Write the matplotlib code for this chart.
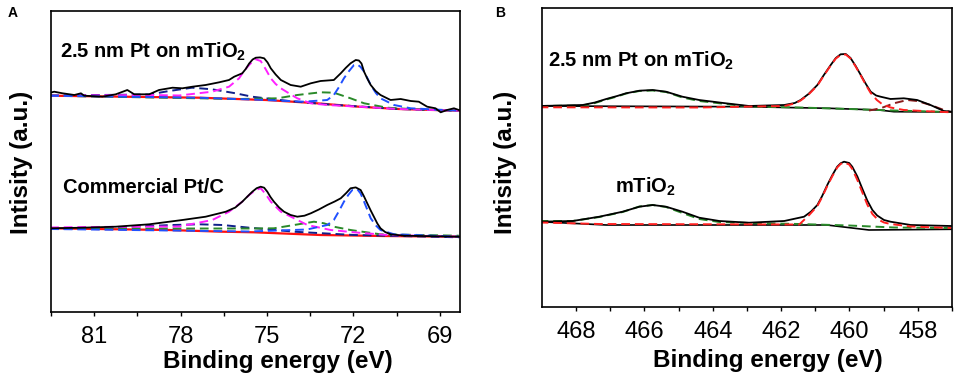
import matplotlib
matplotlib.use("Agg")
import matplotlib.pyplot as plt

plt.rcParams['font.family'] = ['Liberation Sans', 'DejaVu Sans']
plt.rcParams['mathtext.fontset'] = 'custom'
plt.rcParams['mathtext.rm'] = 'Liberation Sans'
plt.rcParams['mathtext.bf'] = 'Liberation Sans:bold'

# ---- Panel A: Pt 4f ----
# upper trace: 2.5 nm Pt on mTiO2
a_up_x = [82.56, 82.39, 82.10, 81.69, 81.46, 81.35, 80.71, 80.25, 79.85, 79.61, 79.09, 78.75,
          78.28, 77.94, 77.59, 77.13, 76.66, 76.32, 76.14, 75.86, 75.74, 75.62, 75.50, 75.39,
          75.24, 75.10, 74.98, 74.87, 74.70, 74.52, 74.18, 73.83, 73.48, 73.14, 72.68, 72.44,
          72.27, 72.10, 71.92, 71.81, 71.72, 71.63, 71.52, 71.40, 71.23, 71.06, 70.71, 70.36,
          70.01, 69.73, 69.44, 69.15, 68.97, 68.75, 68.51, 68.34]
a_up_y = [219.0, 220.3, 218.7, 217.0, 218.7, 216.3, 215.3, 217.7, 222.0, 217.7, 217.7, 222.0,
          224.3, 223.7, 225.3, 227.0, 229.7, 232.0, 235.3, 238.7, 243.0, 248.5, 252.5, 254.3,
          254.6, 253.7, 249.5, 243.7, 237.5, 232.0, 227.0, 225.3, 228.7, 231.0, 232.0, 238.7,
          244.0, 248.7, 252.0, 251.5, 248.5, 240.3, 233.5, 227.0, 221.0, 217.0, 212.0, 213.0,
          211.0, 210.3, 205.3, 203.7, 199.7, 202.0, 203.7, 202.0]
a_up_bg_x = [82.53, 77.36, 75.04, 73.40, 71.81, 70.42, 68.34]
a_up_bg_y = [216.3, 214.3, 212.0, 209.0, 205.3, 203.0, 201.3]
a_up_mag_x = [82.53, 79.09, 78.05, 76.91, 76.32, 75.97, 75.80, 75.62, 75.42, 75.22, 75.05,
              74.87, 74.70, 74.52, 74.20, 73.95, 73.48, 72.91, 71.81, 70.42, 68.34]
a_up_mag_y = [216.3, 217.0, 216.5, 220.3, 225.3, 233.7, 241.0, 247.0, 253.0, 251.0, 243.0,
              233.7, 228.0, 223.7, 218.0, 213.7, 208.7, 207.0, 205.3, 203.0, 201.3]
a_up_blue_x = [82.53, 77.36, 75.04, 73.72, 72.91, 72.68, 72.50, 72.33, 72.15, 71.98, 71.87,
               71.75, 71.63, 71.50, 71.40, 71.22, 71.06, 70.59, 70.01, 68.34]
a_up_blue_y = [216.3, 214.3, 212.0, 210.3, 212.0, 217.0, 225.0, 233.7, 241.0, 247.0, 247.7,
               245.0, 240.3, 233.0, 227.0, 219.0, 213.7, 207.0, 203.7, 201.3]
a_up_green_x = [82.53, 75.97, 74.64, 73.95, 73.14, 72.68, 72.10, 71.63, 70.83, 70.01, 68.34]
a_up_green_y = [216.3, 213.0, 213.7, 217.0, 219.7, 219.3, 213.7, 208.7, 204.3, 203.0, 201.3]
a_up_navy_x = [82.53, 79.09, 78.40, 77.60, 76.91, 76.09, 75.52, 74.24, 72.85, 70.42, 68.34]
a_up_navy_y = [216.5, 217.5, 221.0, 224.3, 222.7, 218.7, 215.3, 211.0, 207.5, 203.0, 201.3]

# lower trace: commercial Pt/C
a_lo_x = [82.56, 81.41, 80.25, 79.09, 77.94, 77.13, 76.43, 76.10, 75.86, 75.68, 75.51, 75.36,
          75.22, 75.10, 74.99, 74.88, 74.76, 74.58, 74.41, 74.18, 73.95, 73.70, 73.48, 73.20,
          72.91, 72.65, 72.44, 72.25, 72.10, 71.92, 71.75, 71.64, 71.52, 71.40, 71.29, 71.17,
          71.06, 70.90, 70.71, 70.25, 68.34]
a_lo_y = [83.7, 84.3, 85.3, 87.7, 92.0, 95.3, 100.3, 104.5, 110.3, 115.5, 120.3, 123.8,
          125.3, 124.3, 120.3, 115.0, 110.3, 104.5, 100.3, 97.0, 95.3, 96.3, 98.7, 102.5,
          107.0, 110.5, 113.7, 119.0, 123.7, 124.6, 122.0, 116.0, 108.7, 101.5, 95.3, 88.5,
          83.7, 80.0, 77.7, 76.3, 75.3]
a_lo_bg_x = [82.56, 78.40, 76.56, 75.45, 73.14, 70.98, 68.34]
a_lo_bg_y = [83.7, 82.0, 80.3, 79.7, 77.0, 76.0, 75.3]
a_lo_mag_x = [82.53, 81.17, 78.05, 76.90, 76.32, 75.86, 75.60, 75.39, 75.22, 75.05, 74.87,
              74.52, 74.06, 73.60, 72.79, 71.98, 70.83, 68.34]
a_lo_mag_y = [84.5, 85.0, 85.5, 92.0, 100.3, 110.3, 117.5, 122.0, 123.7, 118.0, 110.3,
              100.3, 93.7, 87.0, 82.0, 79.7, 77.0, 75.3]
a_lo_blue_x = [82.53, 75.62, 73.61, 72.91, 72.68, 72.50, 72.33, 72.18, 72.04, 71.87, 71.75,
               71.63, 71.50, 71.40, 71.22, 71.06, 70.59, 68.34]
a_lo_blue_y = [83.0, 80.5, 82.5, 87.0, 92.0, 101.0, 110.3, 117.0, 122.0, 123.0, 118.5,
               110.3, 101.0, 93.7, 86.5, 82.0, 77.7, 75.3]
a_lo_green_x = [82.53, 79.09, 75.62, 74.76, 74.06, 73.37, 73.02, 72.68, 72.10, 71.06, 69.67, 68.34]
a_lo_green_y = [83.0, 83.5, 83.5, 83.7, 87.0, 90.3, 88.7, 85.3, 82.0, 77.7, 77.0, 76.3]
a_lo_navy_x = [82.53, 79.67, 78.28, 77.36, 76.55, 75.62, 75.10, 74.06, 71.98, 68.34]
a_lo_navy_y = [83.0, 85.3, 87.0, 87.7, 87.0, 84.3, 83.0, 80.3, 77.0, 74.7]

# ---- Panel B: Ti 2p ----
b_up_x = [469.07, 467.81, 467.45, 467.12, 466.80, 466.54, 466.15, 465.76, 465.37, 464.89,
          464.40, 463.62, 462.94, 461.91, 461.60, 461.43, 461.20, 460.94, 460.75, 460.55,
          460.40, 460.26, 460.11, 459.97, 459.82, 459.67, 459.52, 459.38, 459.22, 459.09,
          458.80, 458.41, 458.02, 457.63, 457.24, 457.03]
b_up_y = [201.0, 202.0, 204.5, 208.0, 211.0, 213.7, 216.3, 217.0, 215.3, 210.3,
          207.0, 203.7, 201.0, 202.0, 204.0, 207.0, 213.0, 222.0, 232.0, 242.0,
          249.0, 252.7, 253.0, 249.0, 241.0, 232.0, 223.0, 215.3, 211.5, 210.3,
          208.0, 208.7, 207.0, 202.0, 196.0, 195.3]
b_up_bg_x = [469.07, 463.08, 460.60, 459.14, 458.70, 457.03]
b_up_bg_y = [201.0, 200.3, 198.7, 197.0, 195.3, 195.0]
b_up_green_x = [469.07, 467.81, 467.45, 467.12, 466.80, 466.54, 466.15, 465.76, 465.37,
                464.89, 464.40, 463.62, 462.94, 461.47, 460.01, 458.70, 457.03]
b_up_green_y = [201.0, 201.5, 204.0, 207.5, 210.5, 213.5, 216.0, 216.5, 215.0,
                209.5, 206.0, 203.0, 200.5, 199.5, 198.0, 196.5, 195.0]
b_up_red_x = [469.07, 464.40, 461.91, 461.60, 461.43, 461.20, 460.94, 460.75, 460.55, 460.40,
              460.26, 460.11, 459.97, 459.82, 459.67, 459.52, 459.38, 459.20, 459.05, 458.80,
              458.41, 457.68, 457.03]
b_up_red_y = [199.7, 199.5, 201.0, 203.5, 206.5, 212.5, 221.5, 231.5, 241.5, 248.5,
              252.0, 252.5, 248.5, 240.5, 231.5, 222.0, 214.0, 207.0, 203.0, 199.5,
              197.0, 195.7, 194.7]
b_up_dred_x = [459.43, 459.09, 458.70, 458.31, 458.02, 457.63, 457.24, 457.03]
b_up_dred_y = [196.5, 198.7, 203.7, 207.0, 206.0, 202.0, 197.0, 195.0]

b_lo_x = [469.07, 468.10, 467.32, 466.64, 466.15, 465.76, 465.37, 464.89, 464.40, 463.81,
          462.94, 461.91, 461.33, 461.13, 460.94, 460.80, 460.65, 460.50, 460.36, 460.26,
          460.16, 460.01, 459.92, 459.77, 459.63, 459.48, 459.33, 459.19, 458.99, 458.80,
          458.21, 457.03]
b_lo_y = [85.3, 86.0, 90.3, 95.3, 100.3, 102.0, 100.3, 95.3, 89.3, 86.0,
          84.3, 86.0, 90.3, 95.3, 102.0, 111.0, 122.0, 132.0, 140.3, 143.7,
          145.3, 144.0, 140.3, 130.5, 118.7, 106.5, 97.0, 91.5, 87.0, 85.3,
          82.0, 81.0]
b_lo_bg_x = [469.07, 467.12, 462.94, 460.66, 459.43, 457.03]
b_lo_bg_y = [85.3, 82.0, 82.0, 82.0, 77.0, 77.7]
b_lo_red_x = [469.07, 467.32, 461.47, 461.18, 460.94, 460.80, 460.65, 460.50, 460.36, 460.26,
              460.16, 460.01, 459.92, 459.77, 459.63, 459.48, 459.33, 459.19, 458.99, 458.80,
              458.21, 457.03]
b_lo_red_y = [84.5, 83.0, 82.5, 92.0, 101.0, 110.0, 121.0, 131.0, 139.5, 143.0,
              144.5, 142.5, 138.0, 127.0, 115.0, 102.5, 93.0, 88.0, 84.5, 83.0,
              80.5, 79.0]
b_lo_green_x = [469.07, 468.10, 467.32, 466.64, 466.15, 465.76, 465.37, 464.89, 464.40, 463.81,
                462.94, 461.47, 460.01, 458.70, 457.03]
b_lo_green_y = [86.0, 86.0, 90.0, 95.0, 100.5, 102.0, 100.0, 94.0, 88.0, 85.0,
                84.0, 83.0, 81.5, 79.5, 79.0]

W, H = 957, 378
fig = plt.figure(figsize=(W / 100, H / 100), dpi=100)
axA = fig.add_axes([51 / W, 1 - 312 / H, 409 / W, 301.3 / H])
axB = fig.add_axes([542 / W, 1 - 307 / H, 410 / W, 298.7 / H])

dash = dict(lw=1.4, ls=(0, (4.5, 2.5)))

# panel A curves
axA.plot(a_up_bg_x, a_up_bg_y, color='#ff1010', lw=1.6)
axA.plot(a_lo_bg_x, a_lo_bg_y, color='#ff1010', lw=1.6)
axA.plot(a_up_navy_x, a_up_navy_y, color='#10208a', **dash)
axA.plot(a_lo_navy_x, a_lo_navy_y, color='#10208a', **dash)
axA.plot(a_up_green_x, a_up_green_y, color='#2a8a2a', **dash)
axA.plot(a_lo_green_x, a_lo_green_y, color='#2a8a2a', **dash)
axA.plot(a_up_mag_x, a_up_mag_y, color='#ff20ff', **dash)
axA.plot(a_lo_mag_x, a_lo_mag_y, color='#ff20ff', **dash)
axA.plot(a_up_blue_x, a_up_blue_y, color='#2050ff', **dash)
axA.plot(a_lo_blue_x, a_lo_blue_y, color='#2050ff', **dash)
axA.plot(a_up_x, a_up_y, color='black', lw=1.3)
axA.plot(a_lo_x, a_lo_y, color='black', lw=1.3)

axA.set_xlim(82.5, 68.3)
axA.set_ylim(0, 301.3)
axA.set_xticks([81, 78, 75, 72, 69])
axA.set_xticks([82.5, 79.5, 76.5, 73.5, 70.5], minor=True)

# panel B curves
axB.plot(b_up_bg_x, b_up_bg_y, color='black', lw=1.2)
axB.plot(b_lo_bg_x, b_lo_bg_y, color='black', lw=1.2)
axB.plot(b_up_green_x, b_up_green_y, color='#2a8a2a', **dash)
axB.plot(b_lo_green_x, b_lo_green_y, color='#2a8a2a', **dash)
axB.plot(b_up_dred_x, b_up_dred_y, color='#8b1a1a', **dash)
axB.plot(b_up_x, b_up_y, color='black', lw=1.3)
axB.plot(b_lo_x, b_lo_y, color='black', lw=1.3)
axB.plot(b_up_red_x, b_up_red_y, color='#ff2020', **dash)
axB.plot(b_lo_red_x, b_lo_red_y, color='#ff2020', **dash)

axB.set_xlim(469, 457)
axB.set_ylim(0, 298.7)
axB.set_xticks([468, 466, 464, 462, 460, 458])
axB.set_xticks([467, 465, 463, 461, 459, 457], minor=True)

for ax in (axA, axB):
    ax.set_yticks([])
    for s in ax.spines.values():
        s.set_linewidth(1.2)
    ax.tick_params(axis='x', which='both', direction='out', length=3, width=1.0, pad=7,
                   labelsize=17)
    ax.set_xlabel('Binding energy (eV)', fontsize=17.5, fontweight='bold')
    ax.set_ylabel('Intisity (a.u.)', fontsize=17.5, fontweight='bold')

axA.xaxis.set_label_coords(0.554, -0.126)
axB.xaxis.set_label_coords(0.55, -0.142)
axA.yaxis.set_label_coords(-0.044, 0.498)
axB.yaxis.set_label_coords(-0.062, 0.485)

txt = dict(fontsize=14.5, fontweight='bold', va='baseline', ha='left')
axA.text(0.022, 0.843, r'2.5 nm Pt on mTiO$_\mathbf{2}$', transform=axA.transAxes, **txt)
axA.text(0.029, 0.395, 'Commercial Pt/C', transform=axA.transAxes, **txt)
axB.text(0.015, 0.803, r'2.5 nm Pt on mTiO$_\mathbf{2}$', transform=axB.transAxes, **txt)
axB.text(0.178, 0.382, r'mTiO$_\mathbf{2}$', transform=axB.transAxes, **txt)

fig.text(13 / W, 1 - 13 / H, 'A', fontsize=10, fontweight='bold', ha='center', va='center')
fig.text(500 / W, 1 - 13 / H, 'B', fontsize=10, fontweight='bold', ha='center', va='center')

fig.savefig('out.png', dpi=100)
